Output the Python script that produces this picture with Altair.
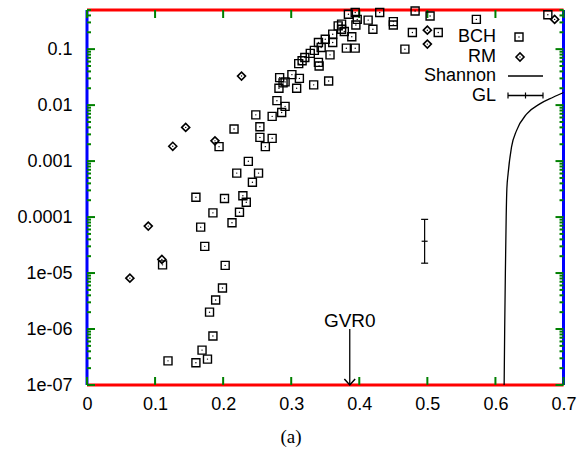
import altair as alt
import pandas as pd

# ---------------- data ----------------
bch_x = [0.119, 0.160, 0.169, 0.177, 0.185, 0.180, 0.189, 0.199, 0.203, 0.111,
         0.173, 0.167, 0.213, 0.185, 0.224, 0.234, 0.160, 0.202, 0.229, 0.243,
         0.220, 0.252, 0.237, 0.194, 0.262, 0.254, 0.272, 0.216, 0.254, 0.248,
         0.272, 0.286, 0.291, 0.279, 0.282, 0.308, 0.333, 0.291, 0.355, 0.312,
         0.283, 0.301, 0.288, 0.341, 0.311, 0.340, 0.316, 0.320, 0.357, 0.328,
         0.334, 0.381, 0.394, 0.344, 0.340, 0.361, 0.350, 0.389, 0.361, 0.378,
         0.374, 0.420, 0.369, 0.374, 0.395, 0.450, 0.450, 0.413, 0.397, 0.384,
         0.394, 0.430, 0.482, 0.467, 0.478, 0.516, 0.504, 0.572, 0.677]
bch_y = [2.7e-7, 2.5e-7, 4.2e-7, 2.9e-7, 7.5e-7, 2.0e-6, 3.3e-6, 5.4e-6, 1.37e-5, 1.4e-5,
         3.0e-5, 6.6e-5, 7.9e-5, 1.19e-4, 1.22e-4, 1.84e-4, 2.26e-4, 2.15e-4, 2.4e-4, 4.2e-4,
         6.1e-4, 6.1e-4, 9.9e-4, 1.81e-3, 1.81e-3, 2.65e-3, 2.55e-3, 3.75e-3, 4.1e-3, 6.7e-3,
         6.3e-3, 7.4e-3, 9.5e-3, 0.012, 0.020, 0.020, 0.023, 0.026, 0.027, 0.030,
         0.031, 0.035, 0.025, 0.050, 0.055, 0.058, 0.062, 0.071, 0.079, 0.084,
         0.095, 0.104, 0.104, 0.107, 0.131, 0.131, 0.15, 0.166, 0.185, 0.206,
         0.227, 0.227, 0.26, 0.28, 0.27, 0.27, 0.31, 0.33, 0.34, 0.42,
         0.45, 0.45, 0.48, 0.10, 0.198, 0.198, 0.39, 0.34, 0.41]

rm_x = [0.063, 0.090, 0.110, 0.126, 0.145, 0.188, 0.227, 0.500, 0.500, 0.687]
rm_y = [8.1e-6, 6.9e-5, 1.75e-5, 1.84e-3, 4.0e-3, 2.3e-3, 0.033, 0.218, 0.123, 0.34]

shannon_x = [0.6128, 0.6136, 0.6146, 0.6158, 0.6168, 0.6186, 0.6236, 0.631, 0.6457, 0.6652, 0.6848, 0.700]
shannon_y = [1e-7, 1e-6, 1e-5, 1e-4, 3.2e-4, 5.9e-4, 1.78e-3, 3.5e-3, 6.9e-3, 1.05e-2, 1.38e-2, 1.68e-2]

gl_x = [0.496]
gl_y = [3.7e-5]
gl_lo = [1.5e-5]
gl_hi = [9.1e-5]

gvr0_x = [0.386]
gvr0_top = [1e-6]
gvr0_bottom = [1e-7]

x_domain = [0, 0.7]
y_domain = [1e-7, 0.5]
x_ticks = [0, 0.1, 0.2, 0.3, 0.4, 0.5, 0.6, 0.7]
y_ticks = [1e-7, 1e-6, 1e-5, 1e-4, 1e-3, 1e-2, 1e-1]
y_minor = [m * d for d in [1e-7, 1e-6, 1e-5, 1e-4, 1e-3, 1e-2, 1e-1]
           for m in range(2, 10) if m * d <= 0.5]

legend_labels = ["BCH", "RM", "Shannon", "GL"]

# ---------------- layout ----------------
W, H = 476.5, 375
FONT = "Liberation Sans"
FS = 18

xscale = alt.Scale(domain=x_domain, nice=False, zero=False)
yscale = alt.Scale(type="log", domain=y_domain, nice=False)

x_axis = alt.Axis(values=x_ticks, title=None, ticks=False, domain=False, grid=False,
                  labelFont=FONT, labelFontSize=FS, labelColor="black", labelPadding=10,
                  labelFlush=False, labelOverlap=False, labelExpr="format(datum.value, '~g')")
y_axis = alt.Axis(values=y_ticks, title=None, ticks=False, domain=False, grid=False,
                  labelFont=FONT, labelFontSize=FS, labelColor="black", labelPadding=15,
                  labelFlush=False, labelOverlap=False,
                  labelExpr="datum.value < 0.00005 ? '1e-0' + format(round(-log(datum.value)/LN10), 'd') : format(datum.value, '~g')")

X = lambda f="x": alt.X(f"{f}:Q", scale=xscale, axis=x_axis)
Y = lambda f="y": alt.Y(f"{f}:Q", scale=yscale, axis=y_axis)

bch_df = pd.DataFrame({"x": bch_x, "y": bch_y})
rm_df = pd.DataFrame({"x": rm_x, "y": rm_y})
sh_df = pd.DataFrame({"x": shannon_x, "y": shannon_y, "i": list(range(len(shannon_x)))})
gl_df = pd.DataFrame({"x": gl_x, "y": gl_y, "lo": gl_lo, "hi": gl_hi})
gl_caps = pd.DataFrame({"x": gl_x * 2, "y": gl_lo + gl_hi})
gv_df = pd.DataFrame({"x": gvr0_x, "y": gvr0_top, "y2": gvr0_bottom, "t": ["GVR0"]})
hframe = pd.DataFrame({"x": [x_domain[0]] * 2, "x2": [x_domain[1]] * 2, "y": y_domain})
vframe = pd.DataFrame({"x": x_domain, "y": [y_domain[0]] * 2, "y2": [y_domain[1]] * 2})
xt_df = pd.DataFrame({"x": x_ticks})
yt_df = pd.DataFrame({"y": y_ticks})
ym_df = pd.DataFrame({"y": y_minor})
one = pd.DataFrame({"k": [0]})

layers = []

# frame drawn in data space
layers.append(alt.Chart(hframe).mark_rule(color="red", strokeWidth=3).encode(
    x=X(), x2="x2:Q", y=Y()))
layers.append(alt.Chart(vframe).mark_rule(color="blue", strokeWidth=3).encode(
    x=X(), y=Y(), y2="y2:Q"))

# inward ticks on all four sides
def xticks_at(yv, off):
    d = xt_df.assign(y=yv)
    return alt.Chart(d).mark_tick(orient="vertical", size=8, thickness=2, color="green",
                                  yOffset=off, opacity=1).encode(x=X(), y=Y())

def yticks_at(df, xv, ln, off):
    d = df.assign(x=xv)
    return alt.Chart(d).mark_tick(orient="horizontal", size=ln, thickness=2, color="green",
                                  xOffset=off, opacity=1).encode(x=X(), y=Y())

layers.append(xticks_at(y_domain[0], -4))
layers.append(xticks_at(y_domain[1], 4))
layers.append(yticks_at(yt_df, x_domain[0], 8, 4))
layers.append(yticks_at(yt_df, x_domain[1], 8, -4))
layers.append(yticks_at(ym_df, x_domain[0], 4, 2))
layers.append(yticks_at(ym_df, x_domain[1], 4, -2))

# BCH squares with centre dot
layers.append(alt.Chart(bch_df).mark_point(shape="square", size=64, filled=False,
                                           color="black", strokeWidth=1.4, opacity=1).encode(x=X(), y=Y()))
layers.append(alt.Chart(bch_df).mark_point(shape="circle", size=2, filled=True,
                                           color="black", opacity=1).encode(x=X(), y=Y()))
# RM diamonds
layers.append(alt.Chart(rm_df).mark_point(shape="diamond", size=64, filled=False,
                                          color="black", strokeWidth=1.6, opacity=1).encode(x=X(), y=Y()))
layers.append(alt.Chart(rm_df).mark_point(shape="circle", size=2, filled=True,
                                          color="black", opacity=1).encode(x=X(), y=Y()))

# Shannon curve
layers.append(alt.Chart(sh_df).mark_line(color="black", strokeWidth=1.3, interpolate="monotone").encode(
    x=X(), y=Y(), order="i:Q"))

# GL error bar
layers.append(alt.Chart(gl_df).mark_rule(color="black", strokeWidth=1.2).encode(
    x=X(), y=Y("lo"), y2="hi:Q"))
layers.append(alt.Chart(gl_caps).mark_point(shape="stroke", size=49, color="black",
                                            strokeWidth=1.2, opacity=1).encode(x=X(), y=Y()))
layers.append(alt.Chart(gl_df).mark_point(shape="stroke", size=36, color="black",
                                          strokeWidth=1.2, opacity=1).encode(x=X(), y=Y()))

# GVR0 arrow
layers.append(alt.Chart(gv_df).mark_rule(color="black", strokeWidth=1.3).encode(
    x=X(), y=Y(), y2="y2:Q"))
layers.append(alt.Chart(gv_df).mark_point(shape="M -0.9 -1 L 0 0 L 0.9 -1", size=144, filled=False,
                                          color="black", strokeWidth=1.5, opacity=1).encode(x=X(), y=Y("y2")))
layers.append(alt.Chart(gv_df).mark_text(font=FONT, fontSize=19, baseline="alphabetic", dy=-2,
                                         color="black").encode(x=X(), y=Y(), text="t:N"))

# legend (inside the plot, top right)
LX_TEXT = 409
rows = [27, 47, 66, 85.5]
for lab, ry in zip(legend_labels, rows):
    layers.append(alt.Chart(pd.DataFrame({"t": [lab]})).mark_text(
        font=FONT, fontSize=FS, align="right", baseline="middle", color="black").encode(
        x=alt.value(LX_TEXT), y=alt.value(ry), text="t:N"))
layers.append(alt.Chart(one).mark_point(shape="square", size=64, filled=False, color="black",
                                        strokeWidth=1.4, opacity=1).encode(x=alt.value(432), y=alt.value(rows[0])))
layers.append(alt.Chart(one).mark_point(shape="circle", size=2, filled=True, color="black",
                                        opacity=1).encode(x=alt.value(432), y=alt.value(rows[0])))
layers.append(alt.Chart(one).mark_point(shape="diamond", size=64, filled=False, color="black",
                                        strokeWidth=1.6, opacity=1).encode(x=alt.value(433), y=alt.value(rows[1])))
layers.append(alt.Chart(one).mark_point(shape="circle", size=2, filled=True, color="black",
                                        opacity=1).encode(x=alt.value(433), y=alt.value(rows[1])))
layers.append(alt.Chart(one).mark_rule(color="black", strokeWidth=1.3).encode(
    x=alt.value(421), x2=alt.value(456), y=alt.value(rows[2])))
layers.append(alt.Chart(one).mark_rule(color="black", strokeWidth=1.3).encode(
    x=alt.value(421), x2=alt.value(456), y=alt.value(rows[3])))
for lx in [421, 438.5, 456]:
    layers.append(alt.Chart(one).mark_point(shape="stroke", angle=90, size=36, color="black",
                                            strokeWidth=1.2, opacity=1).encode(
        x=alt.value(lx), y=alt.value(rows[3])))

# caption
layers.append(alt.Chart(pd.DataFrame({"t": ["(a)"]})).mark_text(
    font="Liberation Serif", fontSize=19, align="center", baseline="middle", color="black").encode(
    x=alt.value(204), y=alt.value(427), text="t:N"))

chart = alt.layer(*layers).properties(
    width=W, height=H,
    background="white",
    autosize=alt.AutoSizeParams(type="none"),
    padding={"left": 87, "top": 10, "right": 19.5, "bottom": 74},
).configure_view(stroke=None)

chart.save("out.html", embed_options={"renderer": "svg", "actions": False})
